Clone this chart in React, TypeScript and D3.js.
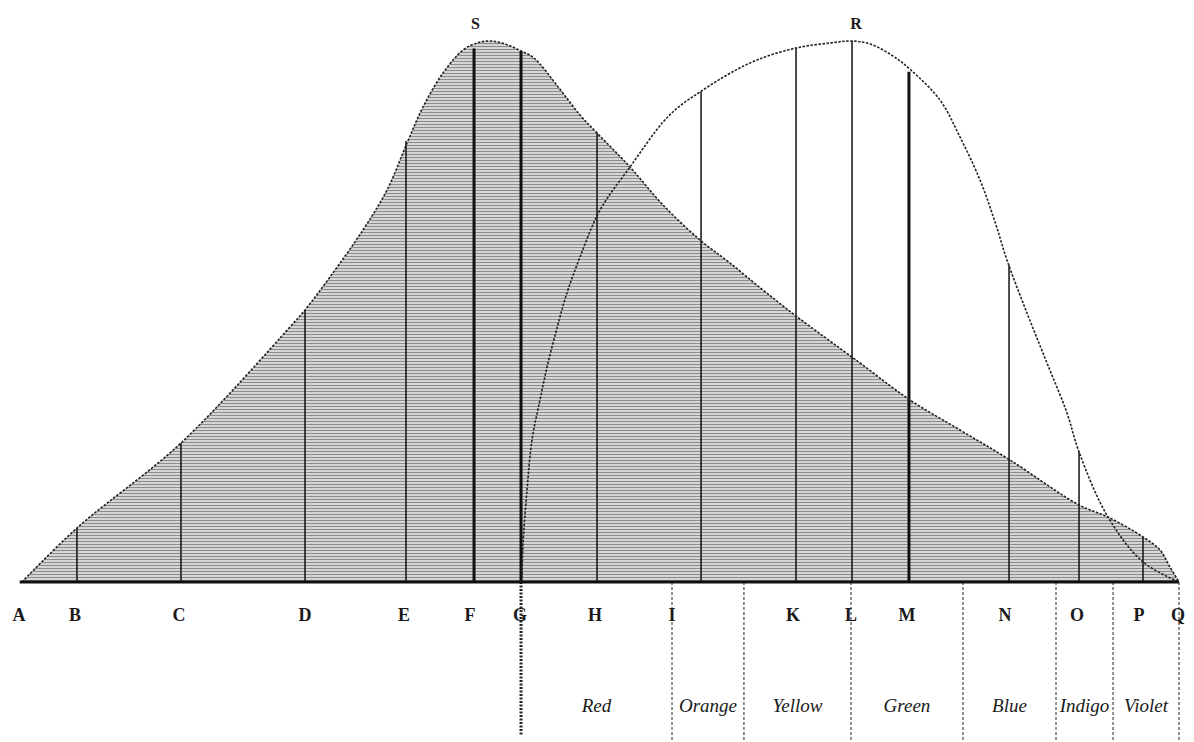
import React from 'react';
import * as d3 from 'd3';

// Position along the spectrum (0 = A, 100 = Q) and relative heights (0..100)
const heatX = [0, 4.75, 13.74, 23.16, 24.46, 26.62, 29.47, 31.55, 33.28, 34.66, 36.39, 38.12, 39.33, 40.45, 41.75, 43.13, 44.25, 46.41, 48.23, 49.7, 52.55, 55.4, 58.6, 61.19, 64.04, 66.9, 72.43, 76.75, 81.07, 85.39, 91.36, 93.86, 96.89, 98.36, 99.22, 100];
const heatY = [0, 9.98, 25.69, 47.13, 50.28, 56.38, 65.06, 72.46, 81.15, 87.8, 94.09, 98.34, 99.63, 100, 99.45, 98.15, 96.86, 91.31, 86.32, 82.99, 76.71, 69.69, 63.22, 58.96, 53.97, 49.17, 40.48, 33.64, 28.1, 22.55, 14.23, 12.01, 8.32, 5.91, 2.77, 0];

const lightX = [43.21, 43.3, 43.65, 44.08, 44.77, 45.38, 46.24, 47.1, 48.23, 49.96, 52.55, 55.4, 56.87, 58.6, 60.93, 63.53, 66.9, 69.84, 71.74, 73.29, 75.28, 76.92, 79.34, 81.07, 82.8, 84.1, 85.13, 86.86, 88.59, 90.32, 91.36, 93.86, 96.89, 100];
const lightY = [0, 6.84, 17.0, 26.25, 33.64, 39.74, 46.95, 53.42, 60.07, 68.76, 76.71, 85.0, 88.0, 90.57, 93.72, 96.49, 98.71, 99.63, 100, 99.45, 97.23, 94.45, 89.09, 82.26, 74.31, 66.54, 59.52, 49.72, 40.48, 31.24, 24.03, 12.01, 3.7, 0];

const ordinateX = [4.75, 13.74, 24.46, 33.19, 39.07, 43.13, 49.7, 58.69, 66.9, 71.74, 76.66, 85.31, 91.36, 96.89];
const ordinateH = [9.98, 25.69, 50.28, 81.5, 98.6, 98.15, 82.99, 90.6, 98.71, 100, 94.3, 58.6, 24.03, 8.32];
const ordinateHeavy = [false, false, false, false, true, true, false, false, false, false, true, false, false, false];

const letterNames = ['A', 'B', 'C', 'D', 'E', 'F', 'G', 'H', 'I', 'K', 'L', 'M', 'N', 'O', 'P', 'Q'];
const letterX = [-0.26, 4.58, 13.57, 24.46, 33.02, 38.72, 43.04, 49.53, 56.18, 66.64, 71.65, 76.49, 84.96, 91.18, 96.54, 99.91];

const bandEdges = [43.13, 56.18, 62.4, 71.65, 81.33, 89.37, 94.3, 100];
const bandNames = ['Red', 'Orange', 'Yellow', 'Green', 'Blue', 'Indigo', 'Violet'];

const peakNames = ['S', 'R'];
const peakX = [39.2, 72.08];
const peakY = [103.3, 103.3];

export default function App() {
  const W = 1194, H = 742;
  const x = d3.scaleLinear().domain([0, 100]).range([22, 1179]);
  const y = d3.scaleLinear().domain([0, 100]).range([582, 41]);

  const heat = heatX.map((v, i) => [v, heatY[i]] as [number, number]);
  const light = lightX.map((v, i) => [v, lightY[i]] as [number, number]);

  const curve = d3.curveCatmullRom.alpha(0.5);
  const area = d3.area<[number, number]>()
    .x(d => x(d[0])).y0(y(0)).y1(d => y(d[1]))
    .curve(curve);
  const line = d3.line<[number, number]>()
    .x(d => x(d[0])).y(d => y(d[1]))
    .curve(curve);

  const serif = '"Liberation Serif", "DejaVu Serif", serif';

  return (
    <svg width={W} height={H} style={{ position: 'absolute', left: 0, top: 0, background: '#fff' }}>
      <defs>
        <pattern id="hatch" patternUnits="userSpaceOnUse" width={10} height={3}>
          <rect x={0} y={0} width={10} height={3} fill="#e2e2e2" />
          <line x1={0} x2={10} y1={1.5} y2={1.5} stroke="#8c8c8c" strokeWidth={1.3} />
        </pattern>
      </defs>

      {/* shaded heat area */}
      <path d={area(heat) || ''} fill="url(#hatch)" stroke="none" />

      {/* ordinates */}
      {ordinateX.map((v, i) => (
        <line key={'o' + i} x1={x(v)} x2={x(v)} y1={y(0)} y2={y(ordinateH[i])}
          stroke="#111" strokeWidth={ordinateHeavy[i] ? 3 : 1.5} />
      ))}

      {/* curves */}
      <path d={line(heat) || ''} fill="none" stroke="#222" strokeWidth={1.6} strokeDasharray="2.5,1.5" />
      <path d={line(light) || ''} fill="none" stroke="#222" strokeWidth={1.6} strokeDasharray="2.5,1.5" />

      {/* band separators below axis */}
      {bandEdges.map((v, i) => (
        <line key={'b' + i} x1={x(v)} x2={x(v)} y1={y(0)} y2={i === 0 ? 735 : 742}
          stroke="#222" strokeWidth={i === 0 ? 3 : 1} strokeDasharray={i === 0 ? '2,1.5' : '3,2'} />
      ))}

      {/* baseline */}
      <line x1={x(-0.2)} x2={x(100)} y1={y(0)} y2={y(0)} stroke="#111" strokeWidth={3} />

      {/* letters */}
      {letterNames.map((n, i) => (
        <text key={'l' + i} x={x(letterX[i])} y={621} textAnchor="middle"
          fontFamily={serif} fontSize={18} fontWeight={600} fill="#1a1a1a">{n}</text>
      ))}

      {/* colour names */}
      {bandNames.map((n, i) => (
        <text key={'c' + i} x={(x(bandEdges[i]) + x(bandEdges[i + 1])) / 2} y={712} textAnchor="middle"
          fontFamily={serif} fontSize={19} fontStyle="italic" fill="#1a1a1a">{n}</text>
      ))}

      {/* peak labels */}
      {peakNames.map((n, i) => (
        <text key={'p' + i} x={x(peakX[i])} y={y(peakY[i]) + 6} textAnchor="middle"
          fontFamily={serif} fontSize={16} fontWeight={700} fill="#1a1a1a">{n}</text>
      ))}
    </svg>
  );
}
